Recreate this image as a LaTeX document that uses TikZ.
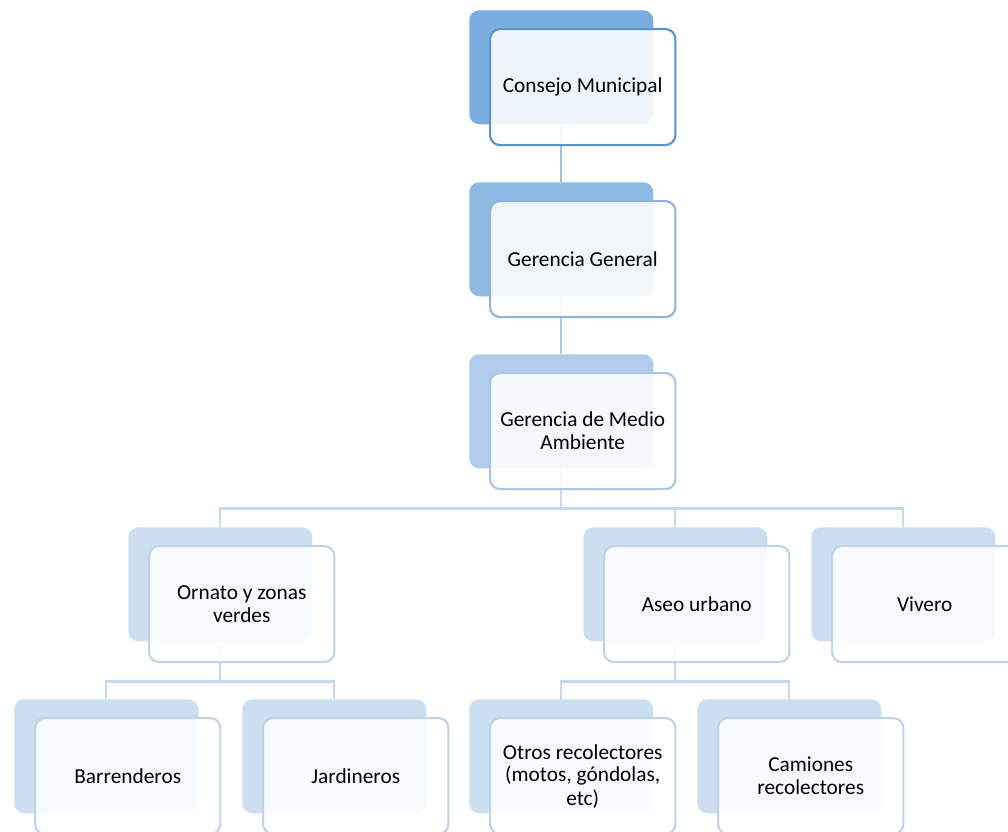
\documentclass[tikz,border=0pt]{standalone}
\usepackage{fontspec}
\setmainfont{Carlito}
\usetikzlibrary{positioning}

\definecolor{backA}{HTML}{7AAEDF}
\definecolor{backB}{HTML}{8EBAE3}
\definecolor{backC}{HTML}{AFCCEA}
\definecolor{backD}{HTML}{CCDFF1}
\definecolor{lineA}{HTML}{5A91CF}
\definecolor{lineB}{HTML}{8DB4E1}
\definecolor{lineC}{HTML}{A9C7E8}
\definecolor{lineD}{HTML}{BFD4EC}
\definecolor{linkA}{HTML}{9DC0E6}
\definecolor{linkB}{HTML}{AFCCEA}
\definecolor{linkC}{HTML}{C6D9EE}

\pgfdeclarelayer{backs}
\pgfdeclarelayer{links}
\pgfsetlayers{backs,links,main}

\tikzset{
  backbox/.style={rectangle, draw=none, rounded corners=7.5pt, inner sep=0pt,
    minimum width=138pt, minimum height=85.5pt, anchor=north west},
  frontbox/.style={rectangle, rounded corners=7.5pt, line width=1.6pt,
    fill=white, fill opacity=0.88, text opacity=1, inner sep=0pt,
    minimum width=139pt, minimum height=87pt, anchor=north west,
    align=center, text=black,
    font=\fontsize{16}{17.25}\selectfont},
  link/.style={line width=1.7pt},
}

% one organisational unit: shadow card plus framed card with its title
% #1 name, #2 x, #3 y, #4 shadow fill, #5 frame colour, #6 title
\newcommand\orgunit[6]{%
  \begin{pgfonlayer}{backs}
    \node[backbox, fill=#4] (#1-b) at (#2,#3) {};
  \end{pgfonlayer}
  \node[frontbox, draw=#5] (#1) at ([shift={(20,18)}]#2,#3) {#6};
}

\begin{document}
\begin{tikzpicture}[x=0.75pt, y=-0.75pt]
  \useasboundingbox (0,0) rectangle (1008,832);

  \orgunit{consejo}{469}{10}{backA}{lineA}{Consejo Municipal}
  \orgunit{gerencia}{469}{182}{backB}{lineB}{Gerencia General}
  \orgunit{ambiente}{469}{354}{backC}{lineC}{Gerencia de Medio\\Ambiente}
  \orgunit{ornato}{128}{527}{backD}{lineD}{Ornato y zonas\\verdes}
  \orgunit{aseo}{583}{527}{backD}{lineD}{Aseo urbano}
  \orgunit{vivero}{811}{527}{backD}{lineD}{Vivero}
  \orgunit{barrenderos}{14}{699}{backD}{lineD}{Barrenderos}
  \orgunit{jardineros}{242}{699}{backD}{lineD}{Jardineros}
  \orgunit{otros}{469}{699}{backD}{lineD}{Otros recolectores\\(motos, góndolas,\\etc)}
  \orgunit{camiones}{697}{699}{backD}{lineD}{Camiones\\recolectores}

  \begin{pgfonlayer}{links}
    \draw[link, linkA] (consejo-b.south) -- (gerencia-b.north);
    \draw[link, linkB] (gerencia-b.south) -- (ambiente-b.north);
    \draw[link, linkC] (ambiente-b.south) -- ++(0,40) coordinate (busA);
    \draw[link, linkC] (busA) -| (ornato-b.north);
    \draw[link, linkC] (busA) -| (aseo-b.north);
    \draw[link, linkC] (busA) -| (vivero-b.north);
    \draw[link, linkC] (ornato-b.south) -- ++(0,40) coordinate (busB);
    \draw[link, linkC] (busB) -| (barrenderos-b.north);
    \draw[link, linkC] (busB) -| (jardineros-b.north);
    \draw[link, linkC] (aseo-b.south) -- ++(0,40) coordinate (busC);
    \draw[link, linkC] (busC) -| (otros-b.north);
    \draw[link, linkC] (busC) -| (camiones-b.north);
  \end{pgfonlayer}
\end{tikzpicture}
\end{document}
